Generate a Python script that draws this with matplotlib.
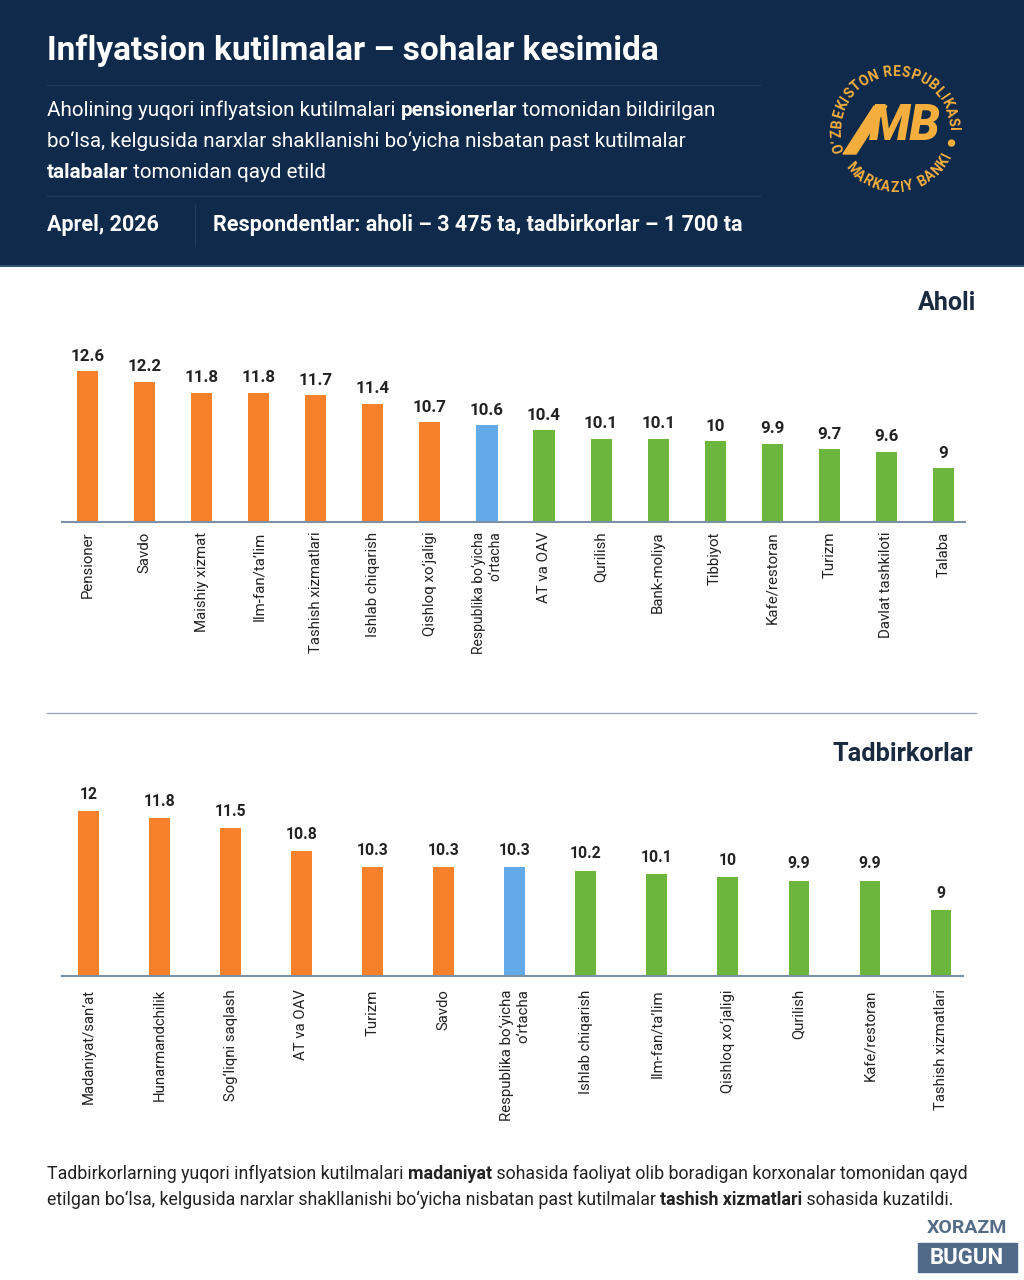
import numpy as np
import matplotlib
matplotlib.use("Agg")
import matplotlib.pyplot as plt
from matplotlib.patches import Rectangle, Circle, Polygon

plt.rcParams["font.family"] = ["Roboto", "DejaVu Sans"]

# --- data ---
aholi_labels = ["Pensioner", "Savdo", "Maishiy xizmat", "Ilm-fan/ta’lim", "Tashish xizmatlari",
                "Ishlab chiqarish", "Qishloq xo‘jaligi", "Respublika bo‘yicha\no‘rtacha", "AT va OAV",
                "Qurilish", "Bank-moliya", "Tibbiyot", "Kafe/restoran", "Turizm",
                "Davlat tashkiloti", "Talaba"]
aholi_values = [12.6, 12.2, 11.8, 11.8, 11.7, 11.4, 10.7, 10.6, 10.4, 10.1, 10.1, 10.0, 9.9, 9.7, 9.6, 9.0]
aholi_groups = ["hi"] * 7 + ["avg"] + ["lo"] * 8

biz_labels = ["Madaniyat/san’at", "Hunarmandchilik", "Sog‘liqni saqlash", "AT va OAV", "Turizm",
              "Savdo", "Respublika bo‘yicha\no‘rtacha", "Ishlab chiqarish", "Ilm-fan/ta’lim",
              "Qishloq xo‘jaligi", "Qurilish", "Kafe/restoran", "Tashish xizmatlari"]
biz_values = [12.0, 11.8, 11.5, 10.8, 10.3, 10.3, 10.3, 10.2, 10.1, 10.0, 9.9, 9.9, 9.0]
biz_groups = ["hi"] * 6 + ["avg"] + ["lo"] * 6

colors = {"hi": "#f7812a", "avg": "#62abe8", "lo": "#6cb63d"}
navy = "#0f2a4b"
gold = "#f3ae3d"
dark = "#222222"

W, H = 1024, 1280
fig = plt.figure(figsize=(W / 100, H / 100), dpi=100)
fig.patch.set_facecolor("white")


def fx(x):
    return x / W


def fy(y):
    return 1 - y / H


def axes_px(l, t, r, b):
    return fig.add_axes([l / W, 1 - b / H, (r - l) / W, (b - t) / H])


# --- header ---
fig.patches.append(Rectangle((0, fy(265)), 1, 265 / H, transform=fig.transFigure,
                             color=navy, zorder=-5))
fig.add_artist(plt.Line2D([0, 1], [fy(266), fy(266)], color="#2f5271", lw=1.5, zorder=-4))
for yy in (85, 196):
    fig.add_artist(plt.Line2D([fx(47), fx(760)], [fy(yy), fy(yy)], color="#1e3a5c", lw=1, zorder=-4))
fig.add_artist(plt.Line2D([fx(195), fx(195)], [fy(204), fy(246)], color="#1e3a5c", lw=1, zorder=-4))

fig.text(fx(47), fy(51), "Inflyatsion kutilmalar – sohalar kesimida", color="white",
         fontsize=24, fontweight="bold", va="center", ha="left")

renderer = fig.canvas.get_renderer()


def rich_line(x, y, parts, size, color):
    # parts: list of (text, bold)
    cur = x
    for txt, bold in parts:
        t = fig.text(fx(cur), fy(y), txt, fontsize=size, color=color, va="center", ha="left",
                     fontweight="bold" if bold else "normal")
        bb = t.get_window_extent(renderer)
        cur += bb.width


rich_line(47, 110, [("Aholining yuqori inflyatsion kutilmalari ", False), ("pensionerlar", True),
                    (" tomonidan bildirilgan", False)], 14.9, "white")
rich_line(47, 141, [("bo‘lsa, kelgusida narxlar shakllanishi bo‘yicha nisbatan past kutilmalar", False)],
          14.9, "white")
rich_line(47, 172, [("talabalar", True), (" tomonidan qayd etild", False)], 14.9, "white")

fig.text(fx(47), fy(225), "Aprel, 2026", color="white", fontsize=15.5, fontweight="bold",
         va="center", ha="left")
fig.text(fx(213), fy(225), "Respondentlar: aholi – 3 475 ta, tadbirkorlar – 1 700 ta", color="white",
         fontsize=15.5, fontweight="bold", va="center", ha="left")

# --- logo ---
lax = axes_px(815, 50, 975, 210)
lax.set_xlim(-80, 80)
lax.set_ylim(-80, 80)
lax.set_aspect("equal")
lax.axis("off")
r = 58


def ring_text(txt, a0, a1, flip):
    # spread characters along the arc by rough glyph width
    wts = np.array([0.45 if c in " I‘" else 1.0 for c in txt])
    pos = (np.cumsum(wts) - wts / 2) / wts.sum()
    for ch, p in zip(txt, pos):
        a = a0 + (a1 - a0) * p
        ar = np.deg2rad(a)
        lax.text(r * np.cos(ar), r * np.sin(ar), ch, rotation=a + (90 if flip else -90),
                 ha="center", va="center", color=gold, fontsize=10, fontweight="bold",
                 rotation_mode="anchor")


ring_text("O‘ZBEKISTON RESPUBLIKASI", 202, -1, False)
ring_text("MARKAZIY BANKI", -143, -24, True)
lax.add_patch(Circle((r * np.cos(np.deg2rad(-13)), r * np.sin(np.deg2rad(-13))), 3, color=gold))
lax.add_patch(Polygon([(-52, -24), (-39, -24), (-8, 24), (-21, 24)], color=gold))
lax.text(10, 3, "MB", fontsize=35, fontweight="heavy", fontstyle="italic", color=gold,
         ha="center", va="center")


# --- charts ---
def bar_chart(ax, labels, values, groups, width, label_size, avg_size, pad, val_size):
    xs = np.arange(len(values))
    ax.bar(xs, [v - 7 for v in values], bottom=7, width=width,
           color=[colors[g] for g in groups], zorder=2)
    for x, v in zip(xs, values):
        ax.text(x, v + 0.28, f"{v:g}", ha="center", va="bottom", fontsize=val_size,
                fontweight="bold", color=dark)
    ax.set_xticks(xs)
    ax.set_xticklabels(labels, rotation=90, fontsize=label_size, color=dark)
    for lab, g in zip(ax.get_xticklabels(), groups):
        if g == "avg":
            lab.set_fontsize(avg_size)
            lab.set_multialignment("right")
    ax.tick_params(axis="x", length=0, pad=pad)
    ax.set_yticks([])
    for s in ("top", "right", "left"):
        ax.spines[s].set_visible(False)
    ax.spines["bottom"].set_color("#7d91a6")
    ax.spines["bottom"].set_linewidth(1.5)


fig.text(fx(976), fy(303), "Aholi", fontsize=18, fontweight="bold", color="#1a2a3f",
         ha="right", va="center")
ax1 = axes_px(62, 347, 965, 522)
bar_chart(ax1, aholi_labels, aholi_values, aholi_groups, 0.37, 10.8, 10, 7, 12.2)
ax1.set_xlim(-0.45, 15.38)
ax1.set_ylim(7, 13.5)

fig.add_artist(plt.Line2D([fx(47), fx(976)], [fy(713), fy(713)], color="#9aa8b6", lw=1))

fig.text(fx(973), fy(754), "Tadbirkorlar", fontsize=18.3, fontweight="bold", color="#1a2a3f",
         ha="right", va="center")
ax2 = axes_px(62, 785, 963, 976)
bar_chart(ax2, biz_labels, biz_values, biz_groups, 0.29, 10.7, 10.8, 9.5, 11.3)
ax2.set_xlim(-0.37, 12.31)
ax2.set_ylim(7, 12.8)

# --- footer ---
rich_line(47, 1174, [("Tadbirkorlarning yuqori inflyatsion kutilmalari ", False), ("madaniyat", True),
                     (" sohasida faoliyat olib boradigan korxonalar tomonidan qayd", False)], 12.8, dark)
rich_line(47, 1200, [("etilgan bo‘lsa, kelgusida narxlar shakllanishi bo‘yicha nisbatan past kutilmalar ", False),
                     ("tashish xizmatlari", True), (" sohasida kuzatildi.", False)], 12.8, dark)

fig.text(fx(967), fy(1228), "XORAZM", fontsize=14, fontweight="bold", color="#566d86",
         ha="center", va="center")
fig.patches.append(Rectangle((fx(918), fy(1272)), 99 / W, 29 / H, transform=fig.transFigure,
                             color="#506a87"))
fig.text(fx(967), fy(1258), "BUGUN", fontsize=16, fontweight="bold", color="white",
         ha="center", va="center")

fig.savefig("out.png", dpi=100, facecolor="white")
